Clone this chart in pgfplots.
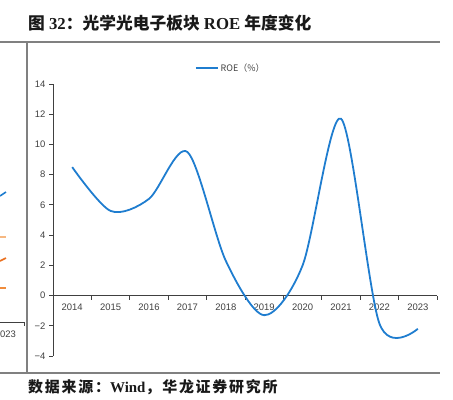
\documentclass[border=0pt]{standalone}
\usepackage{pgfplots}
\pgfplotsset{compat=1.18}
\usepackage{fontspec}
\setmainfont{Liberation Serif}
\setsansfont{Liberation Sans}
\newfontfamily\cjk{Noto Sans CJK SC}
\newfontfamily\cjksp[LetterSpace=12]{Noto Sans CJK SC}
\definecolor{roeblue}{RGB}{31,125,207}
\definecolor{rulegray}{RGB}{128,128,128}
\definecolor{ticktxt}{RGB}{64,64,64}
\definecolor{lorange}{RGB}{246,184,130}
\definecolor{dorange}{RGB}{234,112,32}
\definecolor{morange}{RGB}{240,140,60}
\begin{document}
\begin{tikzpicture}[x=1bp,y=1bp]
\useasboundingbox (0,0) rectangle (453,399);
\clip (0,0) rectangle (453,399);
% frame rules
\draw[rulegray, line width=1.3bp] (0,357) -- (440,357);
\draw[rulegray, line width=1.3bp] (27,357) -- (27,26);
\draw[rulegray, line width=1.3bp] (0,26) -- (440,26);
% title
\node[anchor=west, inner sep=0pt, text=black!90] at (28,376) {\fontsize{16.8}{18}\selectfont{\cjk\bfseries 图}~{\bfseries 32}{\cjk\bfseries ：光学光电子板块}~{\bfseries ROE}~{\cjk\bfseries 年度变化}};
% source
\node[anchor=west, inner sep=0pt, text=black!90] at (28,12) {\fontsize{15}{17}\selectfont{\cjksp\bfseries 数据来源：}{\bfseries Wind}{\cjksp\bfseries ，华龙证券研究所}};
% main chart
\begin{axis}[
  at={(53bp,43bp)}, anchor=south west,
  scale only axis, width=384bp, height=272bp,
  xmin=-0.5, xmax=9.5, ymin=-4, ymax=14,
  axis y line=left, axis x line=middle,
  axis line style={-, black!75, line width=0.8bp},
  hide obscured x ticks=false, hide obscured y ticks=false,
  xtick={0,...,9},
  xticklabels={2014,2015,2016,2017,2018,2019,2020,2021,2022,2023},
  minor xtick={-0.5,0.5,...,9.5},
  major x tick style={draw=none},
  ytick={-4,-2,0,2,4,6,8,10,12,14},
  yticklabels={−4,−2,0,2,4,6,8,10,12,14},
  tick align=outside,
  major tick length=4bp, minor tick length=4bp,
  tick style={black!75, line width=0.8bp},
  tick label style={font=\sffamily\fontsize{9.5}{10}\selectfont, text=ticktxt},
  xticklabel style={yshift=-1bp},
  legend style={at={(0.463,1.059)}, anchor=center, draw=none, fill=none,
    font=\cjk\fontsize{9}{10}\selectfont, text=ticktxt, inner sep=1bp},
  legend image code/.code={\draw[#1, line width=1.6bp] (0bp,0bp) -- (22bp,0bp);},
]
\addplot[roeblue, line width=1.8bp, smooth, tension=0.5] coordinates {
  (0,8.5) (1,5.6) (2,6.4) (3,9.5) (4,2.3) (5,-1.3) (6,2.0) (7,11.7) (8,-1.85) (9,-2.2)
};
\addlegendentry{ROE（\%）}
\end{axis}
% fragment of neighbouring chart
\begin{axis}[
  at={(0bp,43bp)}, anchor=south west,
  scale only axis, width=27bp, height=272bp,
  xmin=0, xmax=27, ymin=43, ymax=315,
  hide axis, clip=false,
]
\addplot[roeblue, line width=1.6bp] coordinates {(0,203) (6,207)};
\addplot[lorange, line width=1.6bp] coordinates {(0,162) (6,162)};
\addplot[dorange, line width=1.6bp] coordinates {(0,138) (6,141)};
\addplot[morange, line width=1.6bp] coordinates {(0,111) (6,111)};
\addplot[black!75, line width=0.8bp] coordinates {(0,77) (24,77) (24,73)};
\node[anchor=east, inner sep=0pt, font=\sffamily\fontsize{9.5}{10}\selectfont, text=ticktxt] at (axis cs:16,65) {023};
\end{axis}
\end{tikzpicture}
\end{document}
